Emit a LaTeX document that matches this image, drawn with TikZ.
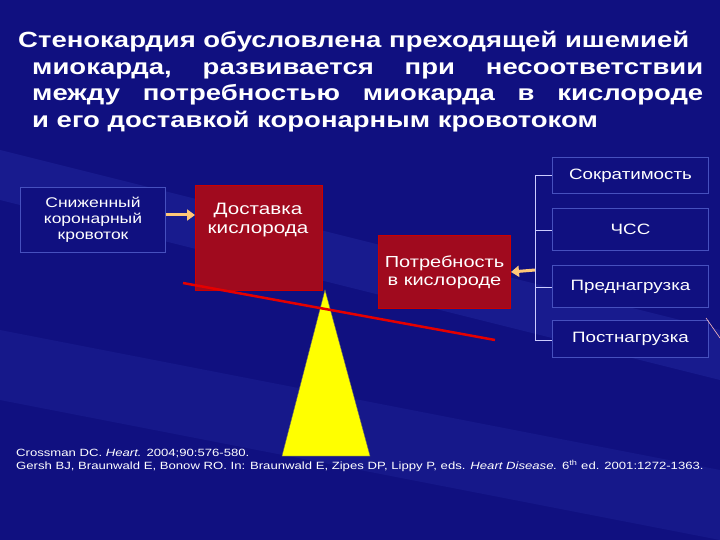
\documentclass[tikz,border=0pt]{standalone}
\usepackage{fontspec}
\usetikzlibrary{arrows.meta}
\setmainfont[FakeStretch=1.25]{Liberation Sans}
\definecolor{bg}{RGB}{16,16,128}
\definecolor{bgl}{RGB}{40,50,170}
\definecolor{boxred}{RGB}{160,10,30}
\definecolor{edge}{RGB}{70,80,190}
\definecolor{ylw}{RGB}{255,255,0}
\definecolor{arr}{RGB}{255,200,120}
\begin{document}
\begin{tikzpicture}[x=1pt,y=-1pt,
  bluebox/.style={draw=edge,line width=1pt,fill=bg,text=white,font=\fontsize{15}{17}\selectfont,align=center,inner sep=0pt},
  redbox/.style={draw=red!80!black,line width=1pt,fill=boxred,text=white,font=\fontsize{16}{18}\selectfont,align=center,inner sep=0pt},
  yarrow/.style={-{Triangle[length=8pt,width=11pt]},line width=3pt,draw=arr}]
\fill[bg] (0,0) rectangle (720,540);
\fill[bgl,opacity=0.35] (0,150) -- (720,330) -- (720,380) -- (0,200) -- cycle;
\fill[bgl,opacity=0.25] (0,330) -- (720,470) -- (720,540) -- (0,400) -- cycle;
\useasboundingbox (0,0) rectangle (720,540);
\node[text=white,font=\bfseries\fontsize{22}{26.5}\selectfont,align=justify,text width=685pt,anchor=north west,inner sep=0pt] (title) at (18,31)
{Стенокардия обусловлена преходящей ишемией\\ \hspace*{14pt}миокарда,\hfill развивается\hfill при\hfill несоответствии\\ \hspace*{14pt}между\hfill потребностью\hfill миокарда\hfill в\hfill кислороде\\ \hspace*{14pt}и его доставкой коронарным кровотоком};
\node[bluebox,minimum width=145pt,minimum height=65pt,anchor=north west,font=\fontsize{14}{16}\selectfont] (low) at (20,187) {Сниженный\\коронарный\\кровоток};
\node[redbox,minimum width=127pt,minimum height=105pt,anchor=north west] (del) at (195,185) {};
\node[text=white,font=\fontsize{16.5}{19}\selectfont,align=center] (delt) at (258,220) {Доставка\\кислорода};
\node[redbox,minimum width=132pt,minimum height=73pt,anchor=north west] (need) at (378,235) {Потребность\\в кислороде};
\node[bluebox,minimum width=156pt,minimum height=36pt,anchor=north west] (b1) at (552,157) {Сократимость};
\node[bluebox,minimum width=156pt,minimum height=42pt,anchor=north west] (b2) at (552,208) {ЧСС};
\node[bluebox,minimum width=156pt,minimum height=42pt,anchor=north west] (b3) at (552,265) {Преднагрузка};
\node[bluebox,minimum width=156pt,minimum height=37pt,anchor=north west] (b4) at (552,320) {Постнагрузка};
\coordinate (top) at (535,175);
\coordinate (bot) at (535,340);
\coordinate (mid) at (535,270);
\draw[white!80!blue,line width=0.8pt] (top) -- (bot);
\foreach \n/\y in {b1/175,b2/230,b3/287,b4/340} \draw[white!80!blue,line width=0.8pt] (535,\y) -- (\n.west |- 0,\y);
\draw[yarrow] (mid) -- (need.east);
\draw[yarrow] (low.east |- 0,215) -- (del.west |- 0,215);
\coordinate (lb) at (183,283);
\coordinate (le) at (495,340);
\coordinate (apex) at (325,290);
\fill[ylw,draw=black!60,line width=0.4pt] (apex) -- (370,456) -- (282,456) -- cycle;
\draw[red!90!black,line width=2.5pt] (lb) -- (le);
\draw[pink,line width=0.6pt] (706,318) -- (720,338);
\node[text=white,font=\fontsize{10.5}{13}\selectfont,align=left,anchor=north west,inner sep=0pt] (ref) at (16,449)
{Crossman DC. \textit{Heart.} 2004;90:576-580.\\Gersh BJ, Braunwald E, Bonow RO. In: Braunwald E, Zipes DP, Lippy P, eds. \textit{Heart Disease.} 6\textsuperscript{th} ed. 2001:1272-1363.};
\end{tikzpicture}
\end{document}
